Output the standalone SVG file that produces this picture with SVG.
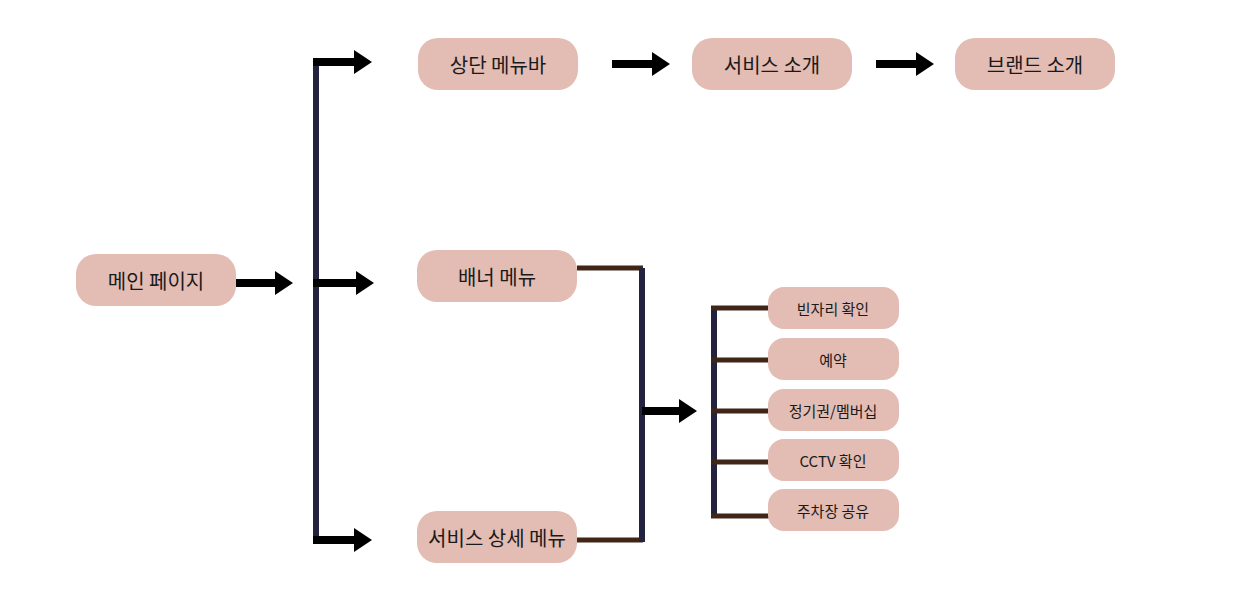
<svg xmlns="http://www.w3.org/2000/svg" width="1242" height="602" viewBox="0 0 1242 602">
<defs>
<style>
.node rect{fill:#e3bcb4;}
.node text{font-family:"Noto Sans CJK KR","Noto Sans",sans-serif;fill:#1a1a1a;text-anchor:middle;dominant-baseline:central;}
.big text{font-size:20px;}
.small text{font-size:15px;}
.navy{stroke:#23233f;stroke-width:6;fill:none;}
.brown{stroke:#3f2616;stroke-width:5;fill:none;}
.shaft{stroke:#000;stroke-width:8;fill:none;}
.head{fill:#000;}
</style>
</defs>
<rect width="1242" height="602" fill="#fff"/>
<g id="connectors">
<path class="navy" d="M316 58 V543"/>
<path class="shaft" d="M236 283 H276"/>
<polygon class="head" points="275,271 293,283 275,295"/>
<path class="shaft" d="M313 62 H355"/>
<polygon class="head" points="354,50 372,62 354,74"/>
<path class="shaft" d="M313 283 H357"/>
<polygon class="head" points="356,271 374,283 356,295"/>
<path class="shaft" d="M313 540 H355"/>
<polygon class="head" points="354,528 372,540 354,552"/>
<path class="shaft" d="M612 64 H653"/>
<polygon class="head" points="652,52 670,64 652,76"/>
<path class="shaft" d="M876 64 H917"/>
<polygon class="head" points="916,52 934,64 916,76"/>
<path class="brown" d="M577 268 H643"/>
<path class="brown" d="M577 540 H643"/>
<path class="navy" d="M642 268 V542"/>
<path class="shaft" d="M642 411 H680"/>
<polygon class="head" points="679,399 697,411 679,423"/>
<path class="navy" d="M714 307 V516"/>
<path class="brown" d="M711 308 H770"/>
<path class="brown" d="M711 360 H770"/>
<path class="brown" d="M711 411 H770"/>
<path class="brown" d="M711 462 H770"/>
<path class="brown" d="M711 516 H770"/>
</g>
<g id="main" class="node big"><rect x="76" y="254" width="160" height="52" rx="20"/><text x="156" y="280">메인 페이지</text></g>
<g id="topmenu" class="node big"><rect x="418" y="38" width="160" height="52" rx="20"/><text x="498" y="64">상단 메뉴바</text></g>
<g id="service-intro" class="node big"><rect x="692" y="38" width="160" height="52" rx="20"/><text x="772" y="64">서비스 소개</text></g>
<g id="brand-intro" class="node big"><rect x="955" y="38" width="160" height="52" rx="20"/><text x="1035" y="64">브랜드 소개</text></g>
<g id="banner" class="node big"><rect x="417" y="250" width="160" height="52" rx="20"/><text x="497" y="276">배너 메뉴</text></g>
<g id="service-detail" class="node big"><rect x="417" y="511" width="160" height="52" rx="20"/><text x="497" y="537">서비스 상세 메뉴</text></g>
<g id="vacancy" class="node small"><rect x="768" y="287" width="131" height="42" rx="16"/><text x="833" y="308">빈자리 확인</text></g>
<g id="reserve" class="node small"><rect x="768" y="338" width="131" height="42" rx="16"/><text x="833" y="359">예약</text></g>
<g id="membership" class="node small"><rect x="768" y="389" width="131" height="42" rx="16"/><text x="833" y="410">정기권/멤버십</text></g>
<g id="cctv" class="node small"><rect x="768" y="439" width="131" height="42" rx="16"/><text x="833" y="460">CCTV 확인</text></g>
<g id="share" class="node small"><rect x="768" y="489" width="131" height="42" rx="16"/><text x="833" y="510">주차장 공유</text></g>
</svg>
